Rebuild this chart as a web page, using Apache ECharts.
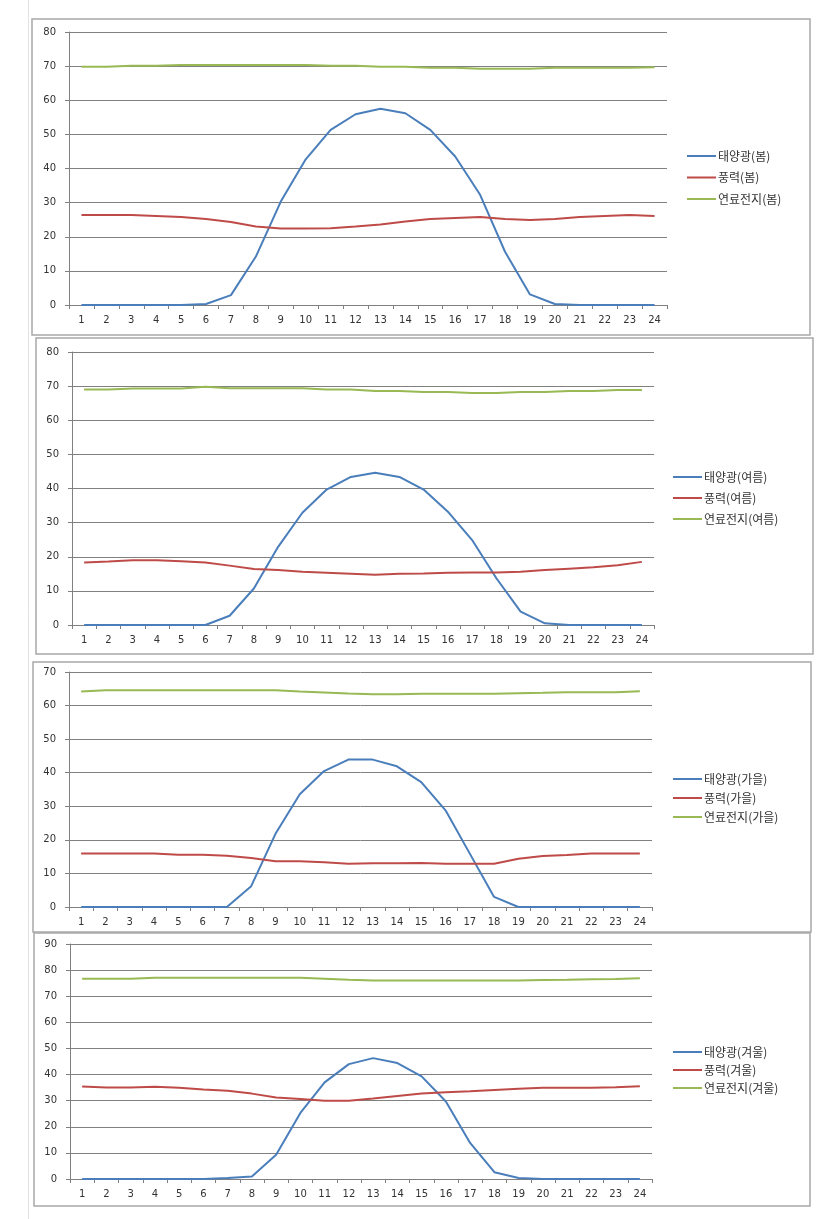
<!DOCTYPE html>
<html>
<head>
<meta charset="utf-8">
<script src="https://cdn.jsdelivr.net/npm/echarts@6/dist/echarts.min.js"></script>
<style>
html,body{margin:0;padding:0;background:#fff;}
#c{width:821px;height:1219px;}
</style>
</head>
<body>
<div id="c"></div>
<script>
const hours = ['1','2','3','4','5','6','7','8','9','10','11','12','13','14','15','16','17','18','19','20','21','22','23','24'];

const seasons = ['봄','여름','가을','겨울'];
const yMax = [80, 80, 70, 90];

const solarSpring = [0,0,0,0,0,0.3,2.9,14.2,30.3,42.7,51.3,55.9,57.5,56.2,51.3,43.5,32.3,15.6,3.1,0.3,0,0,0,0];
const windSpring  = [26.4,26.4,26.4,26.1,25.8,25.2,24.3,23.0,22.4,22.4,22.5,23.0,23.6,24.5,25.2,25.5,25.8,25.2,24.9,25.2,25.8,26.1,26.4,26.1];
const fuelSpring  = [69.8,69.8,70.1,70.1,70.3,70.3,70.3,70.3,70.3,70.3,70.1,70.1,69.8,69.8,69.5,69.5,69.2,69.2,69.2,69.5,69.5,69.5,69.5,69.7];

const solarSummer = [0,0,0,0,0,0,2.7,10.7,22.9,32.9,39.7,43.4,44.6,43.4,39.7,33.2,24.9,13.7,3.9,0.5,0,0,0,0];
const windSummer  = [18.3,18.6,19.0,19.0,18.7,18.3,17.4,16.4,16.1,15.6,15.3,15.0,14.7,15.0,15.1,15.3,15.4,15.4,15.6,16.1,16.5,16.9,17.5,18.5];
const fuelSummer  = [69.0,69.0,69.3,69.3,69.3,69.8,69.4,69.4,69.4,69.4,69.0,69.0,68.6,68.6,68.3,68.3,68.0,68.0,68.3,68.3,68.6,68.6,68.9,68.9];

const solarAutumn = [0,0,0,0,0,0,0,6.2,21.8,33.6,40.5,43.9,43.9,41.9,37.2,28.8,15.9,3.0,0,0,0,0,0,0];
const windAutumn  = [15.9,15.9,15.9,15.9,15.6,15.6,15.3,14.6,13.6,13.6,13.3,12.9,13.0,13.0,13.1,12.9,12.9,12.9,14.4,15.2,15.5,15.9,15.9,15.9];
const fuelAutumn  = [64.2,64.6,64.6,64.6,64.6,64.6,64.6,64.6,64.6,64.2,63.9,63.6,63.4,63.4,63.5,63.5,63.5,63.5,63.7,63.8,64.0,64.0,64.0,64.3];

const solarWinter = [0,0,0,0,0,0,0.4,1.0,9.3,25.3,37.0,44.0,46.3,44.4,39.3,29.7,13.8,2.6,0.4,0,0,0,0,0];
const windWinter  = [35.4,35.0,35.0,35.3,34.9,34.3,33.8,32.7,31.2,30.6,30.0,30.0,30.8,31.8,32.7,33.2,33.6,34.1,34.6,34.9,34.9,34.9,35.1,35.5];
const fuelWinter  = [76.7,76.7,76.7,77.1,77.1,77.1,77.1,77.1,77.1,77.1,76.7,76.3,76.0,76.0,76.0,76.0,76.0,76.0,76.0,76.2,76.3,76.5,76.6,76.9];

const solarAll = [solarSpring, solarSummer, solarAutumn, solarWinter];
const windAll  = [windSpring, windSummer, windAutumn, windWinter];
const fuelAll  = [fuelSpring, fuelSummer, fuelAutumn, fuelWinter];

const colors = ['#4A7EBB', '#BE4B48', '#98B954'];

// layout
const grids = [
  {left: 69, top: 32,  width: 598, height: 273},
  {left: 72, top: 352, width: 582, height: 273},
  {left: 69, top: 672, width: 583, height: 235},
  {left: 70, top: 944, width: 582, height: 235}
];
const frames = [
  {x: 32, y: 19,  w: 778, h: 316},
  {x: 36, y: 338, w: 777, h: 316},
  {x: 33, y: 662, w: 778, h: 270},
  {x: 34, y: 933, w: 776, h: 273}
];
const legendPos = [
  {left: 687, top: 149, gap: 21.5},
  {left: 673, top: 470, gap: 21},
  {left: 673, top: 772, gap: 19},
  {left: 673, top: 1045, gap: 18}
];

const axisColor = '#808080';
const labelFont = {fontFamily: 'DejaVu Sans', fontSize: 10, color: '#333'};

const option = {
  animation: false,
  backgroundColor: '#fff',
  color: colors,
  grid: grids.map(g => Object.assign({containLabel: false}, g)),
  xAxis: grids.map((g, i) => ({
    type: 'category',
    gridIndex: i,
    data: hours,
    boundaryGap: true,
    axisLine: {lineStyle: {color: axisColor, width: 1}},
    axisTick: {show: true, length: 4, lineStyle: {color: axisColor}},
    axisLabel: Object.assign({margin: 10, interval: 0}, labelFont),
    splitLine: {show: false}
  })),
  yAxis: grids.map((g, i) => ({
    type: 'value',
    gridIndex: i,
    min: 0,
    max: yMax[i],
    interval: 10,
    axisLine: {show: true, lineStyle: {color: axisColor, width: 1}},
    axisTick: {show: true, length: 4, lineStyle: {color: axisColor}},
    axisLabel: Object.assign({margin: 13}, labelFont),
    splitLine: {show: true, lineStyle: {color: axisColor, width: 1}}
  })),
  legend: seasons.map((s, i) => ({
    orient: 'vertical',
    left: legendPos[i].left,
    top: legendPos[i].top,
    padding: 0,
    itemWidth: 29,
    itemHeight: 2,
    icon: 'rect',
    itemGap: legendPos[i].gap - 14,
    data: ['태양광(' + s + ')', '풍력(' + s + ')', '연료전지(' + s + ')'],
    textStyle: {fontFamily: 'Noto Sans CJK KR', fontSize: 12, color: '#333', lineHeight: 14, padding: [0, 0, 0, -3]}
  })),
  graphic: [
    {type: 'line', shape: {x1: 28.5, y1: 0, x2: 28.5, y2: 1219}, style: {stroke: '#e2e2e2', lineWidth: 1}, z: -10}
  ].concat(frames.map(f => ({
    type: 'rect',
    shape: {x: f.x, y: f.y, width: f.w, height: f.h},
    style: {fill: '#fff', stroke: '#a8a8a8', lineWidth: 1.5},
    z: -5
  }))),
  series: []
};

seasons.forEach((s, i) => {
  const arrs = [solarAll[i], windAll[i], fuelAll[i]];
  const names = ['태양광(' + s + ')', '풍력(' + s + ')', '연료전지(' + s + ')'];
  arrs.forEach((arr, k) => {
    option.series.push({
      type: 'line',
      name: names[k],
      xAxisIndex: i,
      yAxisIndex: i,
      data: arr,
      showSymbol: false,
      symbol: 'none',
      smooth: false,
      color: colors[k],
      lineStyle: {color: colors[k], width: 2},
      itemStyle: {color: colors[k]}
    });
  });
});

const chart = echarts.init(document.getElementById('c'), null, {renderer: 'canvas'});
chart.setOption(option);
</script>
</body>
</html>
